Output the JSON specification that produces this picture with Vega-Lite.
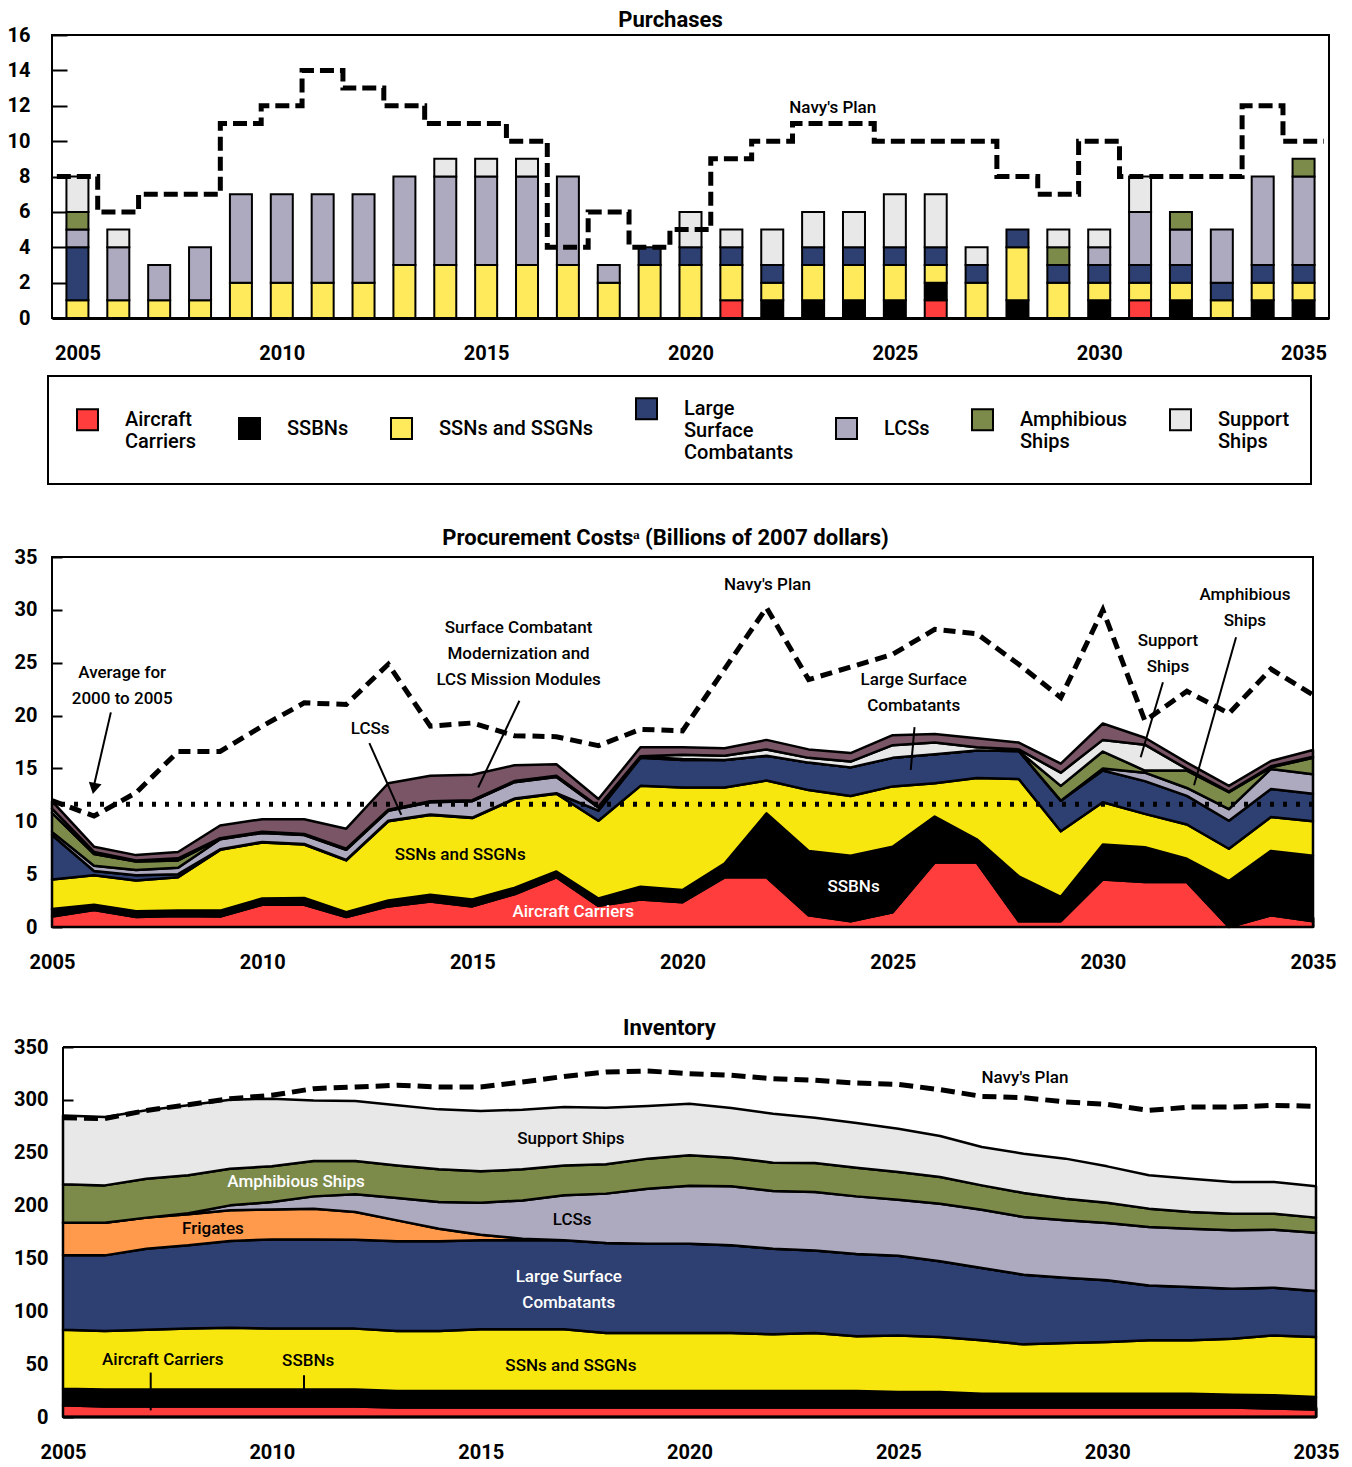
{
  "$schema": "https://vega.github.io/schema/vega-lite/v6.json",
  "background": "white",
  "padding": {"left": 0, "top": 7, "right": 0, "bottom": 0},
  "spacing": 39,
  "columns": 1,
  "resolve": {"scale": {"color": "independent", "x": "independent", "y": "independent"}, "legend": {"color": "independent"}},
  "config": {
    "font": "Roboto",
    "view": {"stroke": "black", "strokeWidth": 2},
    "axis": {"labelFont": "Roboto", "labelFontSize": 20, "labelFontWeight": "bold", "labelColor": "black", "grid": false, "domain": false, "tickColor": "black", "tickWidth": 2, "zindex": 1, "labelOverlap": false, "labelFlush": false, "labelBound": false},
    "title": {"font": "Roboto", "fontSize": 22, "fontWeight": "bold", "color": "black", "frame": "group"},
    "legend": {"strokeWidth": 2},
    "text": {"font": "Roboto", "fontSize": 17, "fontWeight": 500, "color": "black"}
  },
  "datasets": {
    "ranks": [
      {"type": "CVN", "rank": 1}, {"type": "SSBN", "rank": 2}, {"type": "SSN", "rank": 3}, {"type": "LSC", "rank": 4},
      {"type": "FFG", "rank": 5}, {"type": "LCS", "rank": 6}, {"type": "AMP", "rank": 7}, {"type": "SUP", "rank": 8}, {"type": "MOD", "rank": 9}
    ],
    "purch": [
      {"year": 2005, "CVN": 0, "SSBN": 0, "SSN": 1, "LSC": 3, "LCS": 1, "AMP": 1, "SUP": 2},
      {"year": 2006, "CVN": 0, "SSBN": 0, "SSN": 1, "LSC": 0, "LCS": 3, "AMP": 0, "SUP": 1},
      {"year": 2007, "CVN": 0, "SSBN": 0, "SSN": 1, "LSC": 0, "LCS": 2, "AMP": 0, "SUP": 0},
      {"year": 2008, "CVN": 0, "SSBN": 0, "SSN": 1, "LSC": 0, "LCS": 3, "AMP": 0, "SUP": 0},
      {"year": 2009, "CVN": 0, "SSBN": 0, "SSN": 2, "LSC": 0, "LCS": 5, "AMP": 0, "SUP": 0},
      {"year": 2010, "CVN": 0, "SSBN": 0, "SSN": 2, "LSC": 0, "LCS": 5, "AMP": 0, "SUP": 0},
      {"year": 2011, "CVN": 0, "SSBN": 0, "SSN": 2, "LSC": 0, "LCS": 5, "AMP": 0, "SUP": 0},
      {"year": 2012, "CVN": 0, "SSBN": 0, "SSN": 2, "LSC": 0, "LCS": 5, "AMP": 0, "SUP": 0},
      {"year": 2013, "CVN": 0, "SSBN": 0, "SSN": 3, "LSC": 0, "LCS": 5, "AMP": 0, "SUP": 0},
      {"year": 2014, "CVN": 0, "SSBN": 0, "SSN": 3, "LSC": 0, "LCS": 5, "AMP": 0, "SUP": 1},
      {"year": 2015, "CVN": 0, "SSBN": 0, "SSN": 3, "LSC": 0, "LCS": 5, "AMP": 0, "SUP": 1},
      {"year": 2016, "CVN": 0, "SSBN": 0, "SSN": 3, "LSC": 0, "LCS": 5, "AMP": 0, "SUP": 1},
      {"year": 2017, "CVN": 0, "SSBN": 0, "SSN": 3, "LSC": 0, "LCS": 5, "AMP": 0, "SUP": 0},
      {"year": 2018, "CVN": 0, "SSBN": 0, "SSN": 2, "LSC": 0, "LCS": 1, "AMP": 0, "SUP": 0},
      {"year": 2019, "CVN": 0, "SSBN": 0, "SSN": 3, "LSC": 1, "LCS": 0, "AMP": 0, "SUP": 0},
      {"year": 2020, "CVN": 0, "SSBN": 0, "SSN": 3, "LSC": 1, "LCS": 0, "AMP": 0, "SUP": 2},
      {"year": 2021, "CVN": 1, "SSBN": 0, "SSN": 2, "LSC": 1, "LCS": 0, "AMP": 0, "SUP": 1},
      {"year": 2022, "CVN": 0, "SSBN": 1, "SSN": 1, "LSC": 1, "LCS": 0, "AMP": 0, "SUP": 2},
      {"year": 2023, "CVN": 0, "SSBN": 1, "SSN": 2, "LSC": 1, "LCS": 0, "AMP": 0, "SUP": 2},
      {"year": 2024, "CVN": 0, "SSBN": 1, "SSN": 2, "LSC": 1, "LCS": 0, "AMP": 0, "SUP": 2},
      {"year": 2025, "CVN": 0, "SSBN": 1, "SSN": 2, "LSC": 1, "LCS": 0, "AMP": 0, "SUP": 3},
      {"year": 2026, "CVN": 1, "SSBN": 1, "SSN": 1, "LSC": 1, "LCS": 0, "AMP": 0, "SUP": 3},
      {"year": 2027, "CVN": 0, "SSBN": 0, "SSN": 2, "LSC": 1, "LCS": 0, "AMP": 0, "SUP": 1},
      {"year": 2028, "CVN": 0, "SSBN": 1, "SSN": 3, "LSC": 1, "LCS": 0, "AMP": 0, "SUP": 0},
      {"year": 2029, "CVN": 0, "SSBN": 0, "SSN": 2, "LSC": 1, "LCS": 0, "AMP": 1, "SUP": 1},
      {"year": 2030, "CVN": 0, "SSBN": 1, "SSN": 1, "LSC": 1, "LCS": 1, "AMP": 0, "SUP": 1},
      {"year": 2031, "CVN": 1, "SSBN": 0, "SSN": 1, "LSC": 1, "LCS": 3, "AMP": 0, "SUP": 2},
      {"year": 2032, "CVN": 0, "SSBN": 1, "SSN": 1, "LSC": 1, "LCS": 2, "AMP": 1, "SUP": 0},
      {"year": 2033, "CVN": 0, "SSBN": 0, "SSN": 1, "LSC": 1, "LCS": 3, "AMP": 0, "SUP": 0},
      {"year": 2034, "CVN": 0, "SSBN": 1, "SSN": 1, "LSC": 1, "LCS": 5, "AMP": 0, "SUP": 0},
      {"year": 2035, "CVN": 0, "SSBN": 1, "SSN": 1, "LSC": 1, "LCS": 5, "AMP": 1, "SUP": 0}
    ],
    "purchPlan": [
      {"year": 2005, "plan": 8}, {"year": 2006, "plan": 6}, {"year": 2007, "plan": 7}, {"year": 2008, "plan": 7},
      {"year": 2009, "plan": 11}, {"year": 2010, "plan": 12}, {"year": 2011, "plan": 14}, {"year": 2012, "plan": 13},
      {"year": 2013, "plan": 12}, {"year": 2014, "plan": 11}, {"year": 2015, "plan": 11}, {"year": 2016, "plan": 10},
      {"year": 2017, "plan": 4}, {"year": 2018, "plan": 6}, {"year": 2019, "plan": 4}, {"year": 2020, "plan": 5},
      {"year": 2021, "plan": 9}, {"year": 2022, "plan": 10}, {"year": 2023, "plan": 11}, {"year": 2024, "plan": 11},
      {"year": 2025, "plan": 10}, {"year": 2026, "plan": 10}, {"year": 2027, "plan": 10}, {"year": 2028, "plan": 8},
      {"year": 2029, "plan": 7}, {"year": 2030, "plan": 10}, {"year": 2031, "plan": 8}, {"year": 2032, "plan": 8},
      {"year": 2033, "plan": 8}, {"year": 2034, "plan": 12}, {"year": 2035, "plan": 10}, {"year": 2036, "plan": 10}
    ],
    "proc": [
      {"year": 2005, "CVN": 1.0, "SSBN": 0.7, "SSN": 2.8, "LSC": 4.2, "LCS": 0.3, "AMP": 1.8, "SUP": 0.4, "MOD": 0.7, "plan": 11.95},
      {"year": 2006, "CVN": 1.6, "SSBN": 0.5, "SSN": 2.8, "LSC": 0.4, "LCS": 0.5, "AMP": 1.1, "SUP": 0.2, "MOD": 0.5, "plan": 10.5},
      {"year": 2007, "CVN": 0.95, "SSBN": 0.55, "SSN": 2.9, "LSC": 0.5, "LCS": 0.5, "AMP": 0.8, "SUP": 0.1, "MOD": 0.5, "plan": 12.7},
      {"year": 2008, "CVN": 1.05, "SSBN": 0.5, "SSN": 3.15, "LSC": 0.3, "LCS": 0.6, "AMP": 0.7, "SUP": 0.2, "MOD": 0.6, "plan": 16.6},
      {"year": 2009, "CVN": 1.0, "SSBN": 0.55, "SSN": 5.75, "LSC": 0.05, "LCS": 0.95, "AMP": 0.05, "SUP": 0.05, "MOD": 1.2, "plan": 16.6},
      {"year": 2010, "CVN": 2.1, "SSBN": 0.6, "SSN": 5.3, "LSC": 0.05, "LCS": 0.85, "AMP": 0.05, "SUP": 0.05, "MOD": 1.2, "plan": 19.0},
      {"year": 2011, "CVN": 2.1, "SSBN": 0.65, "SSN": 5.05, "LSC": 0.05, "LCS": 0.85, "AMP": 0.05, "SUP": 0.05, "MOD": 1.4, "plan": 21.2},
      {"year": 2012, "CVN": 0.95, "SSBN": 0.45, "SSN": 4.9, "LSC": 0.05, "LCS": 0.95, "AMP": 0.05, "SUP": 0.05, "MOD": 1.9, "plan": 21.05},
      {"year": 2013, "CVN": 1.95, "SSBN": 0.55, "SSN": 7.5, "LSC": 0.05, "LCS": 0.95, "AMP": 0.05, "SUP": 0.05, "MOD": 2.5, "plan": 24.85},
      {"year": 2014, "CVN": 2.4, "SSBN": 0.65, "SSN": 7.55, "LSC": 0.05, "LCS": 1.15, "AMP": 0.05, "SUP": 0.05, "MOD": 2.4, "plan": 19.0},
      {"year": 2015, "CVN": 1.95, "SSBN": 0.65, "SSN": 7.7, "LSC": 0.05, "LCS": 1.55, "AMP": 0.05, "SUP": 0.05, "MOD": 2.4, "plan": 19.3},
      {"year": 2016, "CVN": 3.1, "SSBN": 0.6, "SSN": 8.4, "LSC": 0.05, "LCS": 1.55, "AMP": 0.05, "SUP": 0.05, "MOD": 1.5, "plan": 18.1},
      {"year": 2017, "CVN": 4.7, "SSBN": 0.55, "SSN": 7.35, "LSC": 0.05, "LCS": 1.55, "AMP": 0.05, "SUP": 0.05, "MOD": 1.1, "plan": 18.0},
      {"year": 2018, "CVN": 2.0, "SSBN": 0.7, "SSN": 7.35, "LSC": 0.95, "LCS": 0.3, "AMP": 0.05, "SUP": 0.05, "MOD": 0.7, "plan": 17.15},
      {"year": 2019, "CVN": 2.6, "SSBN": 1.2, "SSN": 9.55, "LSC": 2.65, "LCS": 0.05, "AMP": 0.05, "SUP": 0.05, "MOD": 0.85, "plan": 18.7},
      {"year": 2020, "CVN": 2.35, "SSBN": 1.15, "SSN": 9.7, "LSC": 2.6, "LCS": 0.05, "AMP": 0.05, "SUP": 0.4, "MOD": 0.7, "plan": 18.55},
      {"year": 2021, "CVN": 4.7, "SSBN": 1.3, "SSN": 7.2, "LSC": 2.6, "LCS": 0, "AMP": 0, "SUP": 0.4, "MOD": 0.7, "plan": 24.4},
      {"year": 2022, "CVN": 4.7, "SSBN": 6.05, "SSN": 3.1, "LSC": 2.35, "LCS": 0, "AMP": 0, "SUP": 0.6, "MOD": 0.9, "plan": 30.2},
      {"year": 2023, "CVN": 1.1, "SSBN": 6.1, "SSN": 5.75, "LSC": 2.6, "LCS": 0, "AMP": 0, "SUP": 0.45, "MOD": 0.8, "plan": 23.4},
      {"year": 2024, "CVN": 0.55, "SSBN": 6.2, "SSN": 5.65, "LSC": 2.7, "LCS": 0, "AMP": 0, "SUP": 0.55, "MOD": 0.8, "plan": 24.6},
      {"year": 2025, "CVN": 1.4, "SSBN": 6.2, "SSN": 5.7, "LSC": 2.7, "LCS": 0, "AMP": 0, "SUP": 1.2, "MOD": 0.95, "plan": 25.8},
      {"year": 2026, "CVN": 6.1, "SSBN": 4.35, "SSN": 3.15, "LSC": 2.75, "LCS": 0, "AMP": 0, "SUP": 1.1, "MOD": 0.8, "plan": 28.15},
      {"year": 2027, "CVN": 6.1, "SSBN": 2.2, "SSN": 5.8, "LSC": 2.6, "LCS": 0, "AMP": 0, "SUP": 0.3, "MOD": 0.85, "plan": 27.75},
      {"year": 2028, "CVN": 0.55, "SSBN": 4.25, "SSN": 9.2, "LSC": 2.65, "LCS": 0, "AMP": 0, "SUP": 0.15, "MOD": 0.65, "plan": 24.85},
      {"year": 2029, "CVN": 0.55, "SSBN": 2.3, "SSN": 6.2, "LSC": 2.9, "LCS": 0, "AMP": 1.4, "SUP": 1.25, "MOD": 0.85, "plan": 21.7},
      {"year": 2030, "CVN": 4.5, "SSBN": 3.3, "SSN": 4.0, "LSC": 3.0, "LCS": 0.2, "AMP": 1.6, "SUP": 1.1, "MOD": 1.55, "plan": 30.0},
      {"year": 2031, "CVN": 4.25, "SSBN": 3.3, "SSN": 3.15, "LSC": 3.1, "LCS": 0.8, "AMP": 0.2, "SUP": 2.45, "MOD": 0.65, "plan": 19.5},
      {"year": 2032, "CVN": 4.25, "SSBN": 2.2, "SSN": 3.25, "LSC": 2.7, "LCS": 0.75, "AMP": 1.65, "SUP": 0.15, "MOD": 0.6, "plan": 22.3},
      {"year": 2033, "CVN": 0, "SSBN": 4.35, "SSN": 3.05, "LSC": 2.65, "LCS": 1.1, "AMP": 1.6, "SUP": 0.05, "MOD": 0.55, "plan": 20.2},
      {"year": 2034, "CVN": 1.1, "SSBN": 6.1, "SSN": 3.2, "LSC": 2.65, "LCS": 1.9, "AMP": 0.15, "SUP": 0.1, "MOD": 0.5, "plan": 24.4},
      {"year": 2035, "CVN": 0.55, "SSBN": 6.2, "SSN": 3.25, "LSC": 2.6, "LCS": 1.85, "AMP": 1.55, "SUP": 0.1, "MOD": 0.65, "plan": 21.95}
    ],
    "inv": [
      {"year": 2005, "CVN": 11, "SSBN": 15.8, "SSN": 55.8, "LSC": 70.3, "FFG": 30.9, "LCS": 0, "AMP": 36.3, "SUP": 65.2, "plan": 283.1},
      {"year": 2006, "CVN": 10, "SSBN": 15.9, "SSN": 55.4, "LSC": 71.6, "FFG": 30.9, "LCS": 0, "AMP": 35.3, "SUP": 64.7, "plan": 282.2},
      {"year": 2007, "CVN": 10, "SSBN": 15.9, "SSN": 56.7, "LSC": 76.6, "FFG": 29.4, "LCS": 0, "AMP": 36.8, "SUP": 64.7, "plan": 290},
      {"year": 2008, "CVN": 10, "SSBN": 15.9, "SSN": 57.7, "LSC": 78.8, "FFG": 29.3, "LCS": 1.0, "AMP": 35.9, "SUP": 66.2, "plan": 295.4},
      {"year": 2009, "CVN": 10, "SSBN": 15.9, "SSN": 58.6, "LSC": 82.0, "FFG": 29.0, "LCS": 4.7, "AMP": 34.7, "SUP": 65.3, "plan": 301.1},
      {"year": 2010, "CVN": 10, "SSBN": 15.9, "SSN": 57.7, "LSC": 84.4, "FFG": 28.4, "LCS": 7.0, "AMP": 33.7, "SUP": 64.0, "plan": 304.3},
      {"year": 2011, "CVN": 10, "SSBN": 15.9, "SSN": 57.7, "LSC": 84.4, "FFG": 29.1, "LCS": 11.6, "AMP": 33.5, "SUP": 57.3, "plan": 310.6},
      {"year": 2012, "CVN": 10, "SSBN": 15.9, "SSN": 57.7, "LSC": 84.1, "FFG": 26.2, "LCS": 16.7, "AMP": 31.6, "SUP": 56.7, "plan": 312.2},
      {"year": 2013, "CVN": 9, "SSBN": 15.6, "SSN": 56.7, "LSC": 84.9, "FFG": 19.8, "LCS": 21.2, "AMP": 30.8, "SUP": 56.8, "plan": 313.8},
      {"year": 2014, "CVN": 9, "SSBN": 15.6, "SSN": 56.7, "LSC": 84.9, "FFG": 11.9, "LCS": 25.3, "AMP": 30.9, "SUP": 56.7, "plan": 312.2},
      {"year": 2015, "CVN": 9, "SSBN": 15.6, "SSN": 58.3, "LSC": 84.2, "FFG": 5.4, "LCS": 30.2, "AMP": 29.7, "SUP": 57.0, "plan": 312.2},
      {"year": 2016, "CVN": 9, "SSBN": 15.6, "SSN": 58.3, "LSC": 84.2, "FFG": 1.6, "LCS": 36.2, "AMP": 29.4, "SUP": 56.4, "plan": 316.9},
      {"year": 2017, "CVN": 9, "SSBN": 15.6, "SSN": 58.3, "LSC": 84.2, "FFG": 0, "LCS": 42.6, "AMP": 28.3, "SUP": 55.2, "plan": 322.2},
      {"year": 2018, "CVN": 9, "SSBN": 15.6, "SSN": 54.9, "LSC": 85.1, "FFG": 0, "LCS": 46.7, "AMP": 27.7, "SUP": 53.6, "plan": 326.3},
      {"year": 2019, "CVN": 9, "SSBN": 15.6, "SSN": 54.9, "LSC": 84.5, "FFG": 0, "LCS": 52.0, "AMP": 28.4, "SUP": 49.8, "plan": 327.3},
      {"year": 2020, "CVN": 9, "SSBN": 15.6, "SSN": 54.9, "LSC": 84.5, "FFG": 0, "LCS": 54.8, "AMP": 28.7, "SUP": 48.9, "plan": 324.8},
      {"year": 2021, "CVN": 9, "SSBN": 15.6, "SSN": 54.9, "LSC": 82.9, "FFG": 0, "LCS": 55.8, "AMP": 27.1, "SUP": 47.0, "plan": 323.2},
      {"year": 2022, "CVN": 9, "SSBN": 15.6, "SSN": 53.6, "LSC": 81.0, "FFG": 0, "LCS": 54.6, "AMP": 26.8, "SUP": 46.3, "plan": 320},
      {"year": 2023, "CVN": 9, "SSBN": 15.6, "SSN": 54.9, "LSC": 78.1, "FFG": 0, "LCS": 55.2, "AMP": 27.5, "SUP": 42.8, "plan": 318.5},
      {"year": 2024, "CVN": 9, "SSBN": 15.6, "SSN": 51.7, "LSC": 77.9, "FFG": 0, "LCS": 54.5, "AMP": 27.1, "SUP": 42.3, "plan": 315.9},
      {"year": 2025, "CVN": 9, "SSBN": 14.6, "SSN": 53.4, "LSC": 75.6, "FFG": 0, "LCS": 53.0, "AMP": 26.1, "SUP": 41.0, "plan": 314.7},
      {"year": 2026, "CVN": 9, "SSBN": 14.6, "SSN": 52.1, "LSC": 71.6, "FFG": 0, "LCS": 54.5, "AMP": 25.2, "SUP": 38.8, "plan": 309.6},
      {"year": 2027, "CVN": 9, "SSBN": 13, "SSN": 50.5, "LSC": 68.5, "FFG": 0, "LCS": 55.1, "AMP": 23.0, "SUP": 36.3, "plan": 303.3},
      {"year": 2028, "CVN": 9, "SSBN": 13, "SSN": 46.7, "LSC": 65.9, "FFG": 0, "LCS": 54.6, "AMP": 22.7, "SUP": 37.2, "plan": 302.1},
      {"year": 2029, "CVN": 9, "SSBN": 13, "SSN": 48.0, "LSC": 61.8, "FFG": 0, "LCS": 54.2, "AMP": 20.5, "SUP": 37.9, "plan": 298},
      {"year": 2030, "CVN": 9, "SSBN": 13, "SSN": 48.9, "LSC": 58.4, "FFG": 0, "LCS": 54.2, "AMP": 19.2, "SUP": 34.4, "plan": 295.8},
      {"year": 2031, "CVN": 9, "SSBN": 13, "SSN": 50.5, "LSC": 52.0, "FFG": 0, "LCS": 55.2, "AMP": 17.4, "SUP": 31.5, "plan": 290.1},
      {"year": 2032, "CVN": 9, "SSBN": 13, "SSN": 50.5, "LSC": 50.5, "FFG": 0, "LCS": 55.1, "AMP": 15.8, "SUP": 31.5, "plan": 293.2},
      {"year": 2033, "CVN": 9, "SSBN": 12, "SSN": 53.1, "LSC": 47.3, "FFG": 0, "LCS": 55.2, "AMP": 15.7, "SUP": 30.0, "plan": 293.2},
      {"year": 2034, "CVN": 8, "SSBN": 12.5, "SSN": 56.7, "LSC": 45.1, "FFG": 0, "LCS": 54.9, "AMP": 15.1, "SUP": 30.0, "plan": 294.8},
      {"year": 2035, "CVN": 7, "SSBN": 11.9, "SSN": 56.8, "LSC": 43.5, "FFG": 0, "LCS": 55.2, "AMP": 14.2, "SUP": 29.6, "plan": 293.9}
    ]
  },
  "concat": [
    {
      "title": {"text": "Purchases", "dx": -20, "offset": -6.5},
      "width": 1277,
      "height": 283,
      "layer": [
        {
          "data": {"name": "purch"},
          "transform": [
            {"fold": ["CVN", "SSBN", "SSN", "LSC", "LCS", "AMP", "SUP"], "as": ["type", "n"]},
            {"filter": "datum.n > 0"},
            {"lookup": "type", "from": {"data": {"name": "ranks"}, "key": "type", "fields": ["rank"]}}
          ],
          "mark": {"type": "bar", "width": 22, "stroke": "black", "strokeWidth": 2},
          "encoding": {
            "x": {"field": "year", "type": "quantitative", "scale": {"domain": [2004.5, 2035.5], "nice": false, "zero": false},
              "axis": {"title": null, "values": [2005, 2010, 2015, 2020, 2025, 2030, 2035], "format": "d", "ticks": false, "tickSize": 0, "labelPadding": 25, "domain": true, "domainWidth": 3, "domainColor": "black", "labelOverlap": false}},
            "y": {"field": "n", "type": "quantitative", "stack": "zero", "scale": {"domain": [0, 16], "nice": false},
              "axis": {"title": null, "values": [0, 2, 4, 6, 8, 10, 12, 14, 16], "tickCount": 9, "tickSize": -15, "labelPadding": 37, "minExtent": 51, "maxExtent": 51, "labelOverlap": false, "labelSeparation": 0}},
            "order": {"field": "rank", "type": "quantitative", "sort": "ascending"},
            "color": {
              "field": "type", "type": "nominal",
              "scale": {"domain": ["CVN", "SSBN", "SSN", "LSC", "LCS", "AMP", "SUP"], "range": ["#FF3D3D", "#000000", "#FFEA5C", "#2E3F72", "#ADAAC0", "#7D8B4A", "#E8E8E8"]},
              "legend": {
                "orient": "none", "legendX": -4, "legendY": 341, "direction": "horizontal", "columns": 7,
                "title": " ", "titleOrient": "left", "titlePadding": 7, "titleFontSize": 10,
                "padding": 21, "strokeColor": "black", "columnPadding": 38, "labelOffset": 26,
                "symbolType": "square", "symbolSize": 441, "symbolStrokeColor": "black", "symbolStrokeWidth": 2, "symbolOpacity": 1,
                "labelFont": "Roboto", "labelFontSize": 20, "labelFontWeight": 500, "labelColor": "black", "labelBaseline": "middle", "labelLimit": 400,
                "labelExpr": "datum.value == 'CVN' ? ['Aircraft', 'Carriers'] : datum.value == 'SSBN' ? 'SSBNs' : datum.value == 'SSN' ? 'SSNs and SSGNs' : datum.value == 'LSC' ? ['Large', 'Surface', 'Combatants'] : datum.value == 'LCS' ? 'LCSs' : datum.value == 'AMP' ? ['Amphibious', 'Ships'] : ['Support\u00a0\u00a0\u00a0', 'Ships']"
              }
            }
          }
        },
        {
          "data": {"name": "purchPlan"},
          "mark": {"type": "line", "interpolate": "step-after", "color": "black", "strokeWidth": 5, "strokeDash": [14, 6], "xOffset": -20.6},
          "encoding": {
            "x": {"field": "year", "type": "quantitative"},
            "y": {"field": "plan", "type": "quantitative", "axis": {"title": null, "values": [0, 2, 4, 6, 8, 10, 12, 14, 16], "tickCount": 9, "tickSize": -15, "labelPadding": 37, "minExtent": 51, "maxExtent": 51, "labelOverlap": false, "labelSeparation": 0}}
          }
        },
        {
          "data": {"values": [{"year": 2023.48, "value": 11.87, "label": "Navy's Plan"}]},
          "mark": {"type": "text"},
          "encoding": {
            "x": {"field": "year", "type": "quantitative"},
            "y": {"field": "value", "type": "quantitative"},
            "text": {"field": "label"}
          }
        }
      ]
    },
    {
      "title": {"text": "Procurement Costsᵃ (Billions of 2007 dollars)", "dx": -17, "offset": -2.5},
      "width": 1261,
      "height": 370,
      "layer": [
        {
          "data": {"name": "proc"},
          "transform": [
            {"fold": ["CVN", "SSBN", "SSN", "LSC", "LCS", "AMP", "SUP", "MOD"], "as": ["type", "val"]},
            {"lookup": "type", "from": {"data": {"name": "ranks"}, "key": "type", "fields": ["rank"]}}
          ],
          "mark": {"type": "area", "stroke": "black", "strokeWidth": 2.5, "strokeJoin": "round"},
          "encoding": {
            "x": {"field": "year", "type": "quantitative", "scale": {"domain": [2005, 2035], "nice": false, "zero": false},
              "axis": {"title": null, "values": [2005, 2010, 2015, 2020, 2025, 2030, 2035], "format": "d", "tickSize": -10, "labelPadding": 35, "labelOverlap": false, "minExtent": 50, "maxExtent": 50}},
            "y": {"field": "val", "type": "quantitative", "stack": "zero", "scale": {"domain": [0, 35], "nice": false},
              "axis": {"title": null, "values": [0, 5, 10, 15, 20, 25, 30, 35], "tickSize": -10, "labelPadding": 25, "minExtent": 51, "maxExtent": 51, "labelOverlap": false}},
            "order": {"field": "rank", "type": "quantitative", "sort": "ascending"},
            "color": {
              "field": "type", "type": "nominal", "legend": null,
              "scale": {"domain": ["CVN", "SSBN", "SSN", "LSC", "LCS", "AMP", "SUP", "MOD"], "range": ["#FF3D3D", "#000000", "#F7E70E", "#2E3F72", "#ADAAC0", "#7D8B4A", "#E8E8E8", "#7A5566"]}
            }
          }
        },
        {
          "data": {"values": [{"avg": 11.6}]},
          "mark": {"type": "rule", "color": "black", "strokeWidth": 5, "strokeDash": [4, 9]},
          "encoding": {"y": {"field": "avg", "type": "quantitative"}}
        },
        {
          "data": {"name": "proc"},
          "mark": {"type": "line", "color": "black", "strokeWidth": 5, "strokeDash": [12, 7]},
          "encoding": {
            "x": {"field": "year", "type": "quantitative"},
            "y": {"field": "plan", "type": "quantitative"}
          }
        },
        {
          "data": {"values": [
            {"year": 2006.4, "value": 20.3, "year2": 2006.0, "value2": 13.4},
            {"year": 2016.12, "value": 21.4, "year2": 2015.14, "value2": 13.2},
            {"year": 2012.55, "value": 17.4, "year2": 2013.31, "value2": 10.6},
            {"year": 2025.52, "value": 18.9, "year2": 2025.43, "value2": 14.85},
            {"year": 2031.43, "value": 23.15, "year2": 2030.9, "value2": 16.05},
            {"year": 2033.17, "value": 27.4, "year2": 2032.17, "value2": 13.4}
          ]},
          "mark": {"type": "rule", "color": "black", "strokeWidth": 2},
          "encoding": {
            "x": {"field": "year", "type": "quantitative"},
            "y": {"field": "value", "type": "quantitative"},
            "x2": {"field": "year2"},
            "y2": {"field": "value2"}
          }
        },
        {
          "data": {"values": [{"year": 2006.0, "value": 13.1}]},
          "mark": {"type": "point", "shape": "triangle-down", "filled": true, "color": "black", "opacity": 1, "size": 170, "angle": 12},
          "encoding": {
            "x": {"field": "year", "type": "quantitative"},
            "y": {"field": "value", "type": "quantitative"}
          }
        },
        {
          "data": {"values": [
            {"year": 2006.67, "value": 24.0, "label": "Average for\n2000 to 2005"},
            {"year": 2016.1, "value": 28.3, "label": "Surface Combatant\nModernization and\nLCS Mission Modules"},
            {"year": 2012.57, "value": 18.7, "label": "LCSs"},
            {"year": 2014.71, "value": 6.85, "label": "SSNs and SSGNs"},
            {"year": 2022.02, "value": 32.35, "label": "Navy's Plan"},
            {"year": 2025.5, "value": 23.35, "label": "Large Surface\nCombatants"},
            {"year": 2031.55, "value": 27.05, "label": "Support\nShips"},
            {"year": 2033.38, "value": 31.4, "label": "Amphibious\nShips"}
          ]},
          "mark": {"type": "text", "lineBreak": "\n", "lineHeight": 26},
          "encoding": {
            "x": {"field": "year", "type": "quantitative"},
            "y": {"field": "value", "type": "quantitative"},
            "text": {"field": "label"}
          }
        },
        {
          "data": {"values": [
            {"year": 2017.4, "value": 1.4, "label": "Aircraft Carriers"},
            {"year": 2024.07, "value": 3.8, "label": "SSBNs"}
          ]},
          "mark": {"type": "text", "color": "white"},
          "encoding": {
            "x": {"field": "year", "type": "quantitative"},
            "y": {"field": "value", "type": "quantitative"},
            "text": {"field": "label"}
          }
        }
      ]
    },
    {
      "title": {"text": "Inventory", "dx": -14.5, "offset": -3},
      "width": 1264,
      "height": 370,
      "view": {"stroke": null},
      "layer": [
        {
          "data": {"name": "inv"},
          "transform": [
            {"fold": ["CVN", "SSBN", "SSN", "LSC", "FFG", "LCS", "AMP", "SUP"], "as": ["type", "val"]},
            {"lookup": "type", "from": {"data": {"name": "ranks"}, "key": "type", "fields": ["rank"]}}
          ],
          "mark": {"type": "area", "stroke": "black", "strokeWidth": 2.5, "strokeJoin": "round"},
          "encoding": {
            "x": {"field": "year", "type": "quantitative", "scale": {"domain": [2004.7367, 2035], "nice": false, "zero": false},
              "axis": {"title": null, "values": [2005, 2010, 2015, 2020, 2025, 2030, 2035], "format": "d", "tickSize": -10, "labelPadding": 35, "labelOverlap": false}},
            "y": {"field": "val", "type": "quantitative", "stack": "zero", "scale": {"domain": [0, 350], "nice": false},
              "axis": {"title": null, "values": [0, 50, 100, 150, 200, 250, 300, 350], "tickSize": -10, "labelPadding": 25, "offset": -11, "minExtent": 51, "maxExtent": 51, "labelOverlap": false}},
            "order": {"field": "rank", "type": "quantitative", "sort": "ascending"},
            "color": {
              "field": "type", "type": "nominal", "legend": null,
              "scale": {"domain": ["CVN", "SSBN", "SSN", "LSC", "FFG", "LCS", "AMP", "SUP"], "range": ["#FF3D3D", "#000000", "#F7E70E", "#2E3F72", "#FF9A4C", "#ADAAC0", "#7D8B4A", "#E8E8E8"]}
            }
          }
        },
        {
          "data": {"values": [{}]},
          "mark": {"type": "rule", "color": "black", "strokeWidth": 2},
          "encoding": {"x": {"datum": 2005}}
        },
        {
          "data": {"values": [{}]},
          "mark": {"type": "rule", "color": "black", "strokeWidth": 2},
          "encoding": {"x": {"datum": 2035}}
        },
        {
          "data": {"values": [{}]},
          "mark": {"type": "rule", "color": "black", "strokeWidth": 2},
          "encoding": {"y": {"datum": 350}, "x": {"datum": 2005}, "x2": {"datum": 2035}}
        },
        {
          "data": {"values": [{}]},
          "mark": {"type": "rule", "color": "black", "strokeWidth": 3},
          "encoding": {"y": {"datum": 0}, "x": {"datum": 2005}, "x2": {"datum": 2035}}
        },
        {
          "data": {"name": "inv"},
          "mark": {"type": "line", "color": "black", "strokeWidth": 5, "strokeDash": [14, 7]},
          "encoding": {
            "x": {"field": "year", "type": "quantitative"},
            "y": {"field": "plan", "type": "quantitative"}
          }
        },
        {
          "data": {"values": [
            {"year": 2007.1, "value": 42, "year2": 2007.1, "value2": 6.3},
            {"year": 2010.77, "value": 39.5, "year2": 2010.77, "value2": 25.3}
          ]},
          "mark": {"type": "rule", "color": "black", "strokeWidth": 2},
          "encoding": {
            "x": {"field": "year", "type": "quantitative"},
            "y": {"field": "value", "type": "quantitative"},
            "x2": {"field": "year2"},
            "y2": {"field": "value2"}
          }
        },
        {
          "data": {"values": [
            {"year": 2017.16, "value": 262.9, "label": "Support Ships"},
            {"year": 2008.59, "value": 177.5, "label": "Frigates"},
            {"year": 2017.19, "value": 186, "label": "LCSs"},
            {"year": 2007.39, "value": 53.7, "label": "Aircraft Carriers"},
            {"year": 2010.87, "value": 52.7, "label": "SSBNs"},
            {"year": 2017.16, "value": 48, "label": "SSNs and SSGNs"},
            {"year": 2028.03, "value": 320.6, "label": "Navy's Plan"}
          ]},
          "mark": {"type": "text"},
          "encoding": {
            "x": {"field": "year", "type": "quantitative"},
            "y": {"field": "value", "type": "quantitative"},
            "text": {"field": "label"}
          }
        },
        {
          "data": {"values": [
            {"year": 2010.58, "value": 222, "label": "Amphibious Ships"},
            {"year": 2017.11, "value": 132.3, "label": "Large Surface\nCombatants"}
          ]},
          "mark": {"type": "text", "color": "white", "lineBreak": "\n", "lineHeight": 26},
          "encoding": {
            "x": {"field": "year", "type": "quantitative"},
            "y": {"field": "value", "type": "quantitative"},
            "text": {"field": "label"}
          }
        }
      ]
    }
  ]
}
